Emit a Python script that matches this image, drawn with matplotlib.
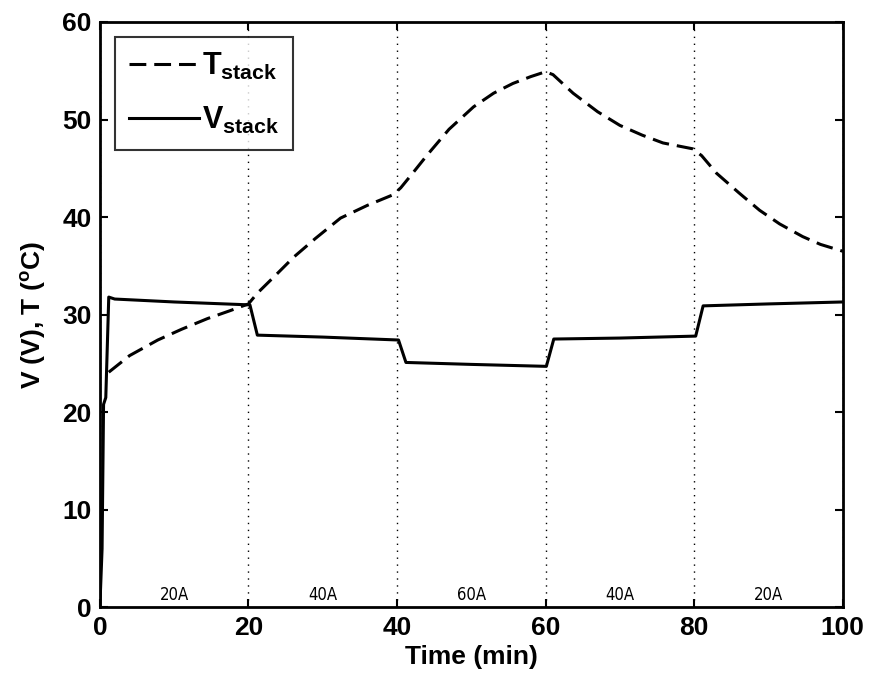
import matplotlib
matplotlib.use("Agg")
import matplotlib.pyplot as plt
import numpy as np

plt.rcParams['font.family'] = ['Liberation Sans', 'DejaVu Sans']
plt.rcParams['mathtext.fontset'] = 'custom'
plt.rcParams['mathtext.rm'] = 'Liberation Sans:bold'
plt.rcParams['mathtext.bf'] = 'Liberation Sans:bold'
plt.rcParams['mathtext.default'] = 'bf'

# stack temperature (deg C) vs time (min)
t_time = [1.2, 4, 7.8, 11, 14.5, 17.5, 20, 21.2, 24, 26.1, 29, 32.4, 36, 39.5,
          40.5, 42, 44.1, 47, 50.3, 53, 55.6, 58, 60, 61, 63.7, 67, 70, 73,
          75.8, 79.8, 81, 83, 86, 88.8, 91.5, 94.6, 97, 100]
t_stack = [24.1, 25.8, 27.4, 28.5, 29.6, 30.4, 31.1, 32.2, 34.3, 35.9, 37.8, 39.9,
           41.2, 42.3, 43.0, 44.4, 46.4, 49.0, 51.3, 52.7, 53.7, 54.4, 54.9, 54.6,
           52.7, 50.8, 49.4, 48.4, 47.6, 47.0, 46.3, 44.5, 42.5, 40.7, 39.3, 38.0,
           37.2, 36.5]

# stack voltage (V) vs time (min)
v_time = [0, 0.3, 0.5, 0.8, 1.2, 2, 10, 20.2, 21.2, 30, 40.2, 41.2, 50, 60.1,
          61.1, 70, 80.2, 81.2, 90, 100]
v_stack = [0, 6, 20.8, 21.5, 31.8, 31.6, 31.3, 31.0, 27.9, 27.7, 27.4, 25.1,
           24.9, 24.7, 27.5, 27.6, 27.8, 30.9, 31.1, 31.3]

seg_labels = ['20A', '40A', '60A', '40A', '20A']
seg_pos = [10, 30, 50, 70, 90]

fig = plt.figure(figsize=(8.72, 6.87), dpi=100)
ax = fig.add_axes([0.1145, 0.116, 0.852, 0.852])

ax.plot(t_time, t_stack, color='k', lw=2.2, linestyle=(0, (5.5, 2.6)),
        label='T$_{stack}$')
ax.plot(v_time, v_stack, color='k', lw=2.2, label='V$_{stack}$')

for lab, p in zip(seg_labels, seg_pos):
    ax.text(p, 0.35, lab, ha='center', va='bottom', fontsize=12,
            fontweight='normal', family='DejaVu Sans', stretch='condensed')

ax.set_xlim(0, 100)
ax.set_ylim(0, 60)
ax.set_xticks(np.arange(0, 101, 20))
ax.set_yticks(np.arange(0, 61, 10))
ax.xaxis.grid(True, linestyle=(0, (1, 4)), color='k', lw=1)
ax.tick_params(direction='in', top=True, right=True, length=6, width=1.5,
               labelsize=19, pad=6)
for lbl in ax.get_xticklabels() + ax.get_yticklabels():
    lbl.set_fontweight('bold')
for s in ax.spines.values():
    s.set_linewidth(2)

ax.set_xlabel('Time (min)', fontsize=19, fontweight='bold', labelpad=4)
ax.set_ylabel('V (V), T ($^{o}$C)', fontsize=19, fontweight='bold', labelpad=10)

leg = ax.legend(loc='upper left', prop={'size': 22, 'weight': 'bold'},
                frameon=True, fancybox=False, edgecolor='k', handlelength=2.3,
                handletextpad=0.1, borderaxespad=0.5, borderpad=0.45,
                labelspacing=0.75)
leg.get_frame().set_linewidth(1.5)

fig.savefig('out.png', dpi=100)
